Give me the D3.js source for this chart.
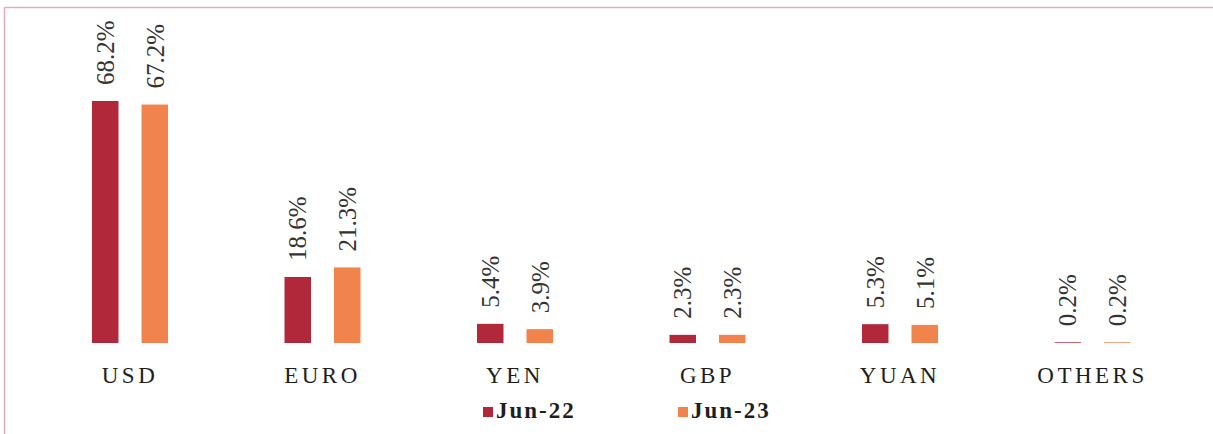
<!DOCTYPE html>
<html>
<head>
<meta charset="utf-8">
<script src="https://cdn.jsdelivr.net/npm/d3@7"></script>
<style>
  html, body { margin: 0; padding: 0; background: #fff; }
  svg { display: block; }
</style>
</head>
<body>
<div id="chart"></div>
<script>
const categories = ["USD", "EURO", "YEN", "GBP", "YUAN", "OTHERS"];
const seriesNames = ["Jun-22", "Jun-23"];
const jun22 = [68.2, 18.6, 5.4, 2.3, 5.3, 0.2];
const jun23 = [67.2, 21.3, 3.9, 2.3, 5.1, 0.2];
const valueLabels22 = ["68.2%", "18.6%", "5.4%", "2.3%", "5.3%", "0.2%"];
const valueLabels23 = ["67.2%", "21.3%", "3.9%", "2.3%", "5.1%", "0.2%"];

const width = 1213, height = 434;
const colors = {"Jun-22": "#b0283a", "Jun-23": "#f0844c"};
const baseline = 343;

const data = categories.map(function(c, i) {
  return {cat: c, vals: [
    {s: "Jun-22", v: jun22[i], label: valueLabels22[i]},
    {s: "Jun-23", v: jun23[i], label: valueLabels23[i]}
  ]};
});

const svg = d3.select("#chart").append("svg")
  .attr("width", width)
  .attr("height", height);

// frame lines
svg.append("line")
  .attr("x1", 4.5).attr("x2", width).attr("y1", 7.5).attr("y2", 7.5)
  .style("stroke", "#e7a6c4").style("stroke-width", "1.5px");
svg.append("line")
  .attr("x1", 4.5).attr("x2", 4.5).attr("y1", 7.5).attr("y2", height)
  .style("stroke", "#e7a6c4").style("stroke-width", "1.5px");

const x0 = d3.scaleBand().domain(categories).range([33.75, 1188.75]).padding(0);
const groupW = 76;
const x1 = d3.scaleBand().domain(seriesNames).range([0, groupW]).paddingInner(0.465);
const y = d3.scaleLinear().domain([0, 68.2]).range([baseline, 101]);

const groups = svg.selectAll("g.cat")
  .data(data)
  .enter().append("g")
    .attr("class", "cat")
    .attr("transform", function(d) {
      return "translate(" + (x0(d.cat) + (x0.bandwidth() - groupW) / 2) + ",0)";
    });

groups.selectAll("rect")
  .data(function(d) { return d.vals; })
  .enter().append("rect")
    .attr("x", function(d) { return x1(d.s); })
    .attr("width", x1.bandwidth())
    .attr("y", function(d) { return y(d.v); })
    .attr("height", function(d) { return baseline - y(d.v); })
    .style("fill", function(d) { return colors[d.s]; });

groups.selectAll("text.val")
  .data(function(d) { return d.vals; })
  .enter().append("text")
    .attr("class", "val")
    .attr("transform", function(d) {
      return "translate(" + (x1(d.s) + x1.bandwidth() / 2) + "," + (y(d.v) - 16) + ") rotate(-90)";
    })
    .attr("dy", "0.35em")
    .attr("text-anchor", "start")
    .style("font-family", "'Liberation Serif', 'Times New Roman', serif")
    .style("font-size", "25px")
    .style("fill", "#333")
    .text(function(d) { return d.label; });

// category labels
svg.selectAll("text.catlab")
  .data(categories)
  .enter().append("text")
    .attr("class", "catlab")
    .attr("x", function(d) { return x0(d) + x0.bandwidth() / 2; })
    .attr("y", 383)
    .attr("text-anchor", "middle")
    .style("font-family", "'Liberation Serif', 'Times New Roman', serif")
    .style("font-size", "23px")
    .style("letter-spacing", "3.5px")
    .style("fill", "#1e1e1e")
    .text(function(d) { return d; });

// legend
const legendX = [483, 678];
const legend = svg.selectAll("g.legend")
  .data(seriesNames)
  .enter().append("g")
    .attr("class", "legend")
    .attr("transform", function(d, i) { return "translate(" + legendX[i] + ",407)"; });

legend.append("rect")
  .attr("width", 10).attr("height", 10)
  .style("fill", function(d) { return colors[d]; });

legend.append("text")
  .attr("x", 13)
  .attr("y", 11)
  .style("font-family", "'Liberation Serif', 'Times New Roman', serif")
  .style("font-size", "23px")
  .style("font-weight", "bold")
  .style("letter-spacing", "2px")
  .style("fill", "#1e1e1e")
  .text(function(d) { return d; });
</script>
</body>
</html>
